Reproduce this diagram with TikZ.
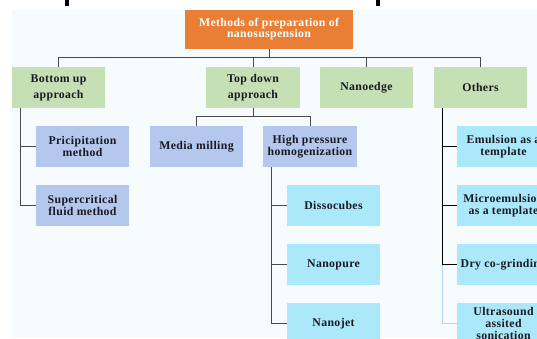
\documentclass[tikz,border=0pt]{standalone}
\usepackage{fontspec}
\setmainfont{Liberation Serif}[LetterSpace=3]
\definecolor{bgc}{HTML}{F6FCFD}
\definecolor{orangec}{HTML}{E97F35}
\definecolor{greenc}{HTML}{C5E0B4}
\definecolor{bluec}{HTML}{B4C7EC}
\definecolor{cyanc}{HTML}{AAE8FA}
\definecolor{linec}{HTML}{4A4A4A}
\definecolor{faintc}{HTML}{B8D4F4}
\definecolor{textc}{HTML}{1A1A22}
\tikzset{
  basebox/.style={inner sep=0pt, minimum height=41pt, minimum width=93pt, align=center,
    font=\fontsize{11.8}{12}\selectfont\bfseries, text=textc},
  topbox/.style={basebox, fill=orangec, minimum width=168pt, minimum height=39pt, text=white,
    font=\fontsize{11.8}{11}\selectfont\bfseries},
  lvtwo/.style={basebox, fill=greenc, font=\fontsize{11.8}{16}\selectfont\bfseries},
  lvblue/.style={basebox, fill=bluec},
  lvcyan/.style={basebox, fill=cyanc},
  conn/.style={draw=linec, line width=0.9pt},
  connk/.style={draw=black, line width=0.9pt},
  connf/.style={draw=faintc, line width=0.9pt}
}
\begin{document}
\begin{tikzpicture}[x=1pt,y=-1pt]
\useasboundingbox (0,0) rectangle (537,338);
\clip (0,0) rectangle (537,338);
\fill[white] (0,0) rectangle (537,338);
\fill[bgc] (12,10) rectangle (537,338);
% cut-off marks at the top
\fill[black] (65,0) rectangle (69,6);
\fill[black] (376,0) rectangle (380,6);

\node[topbox] (top) at (269,29.5) {Methods of preparation of\\nanosuspension};

\node[lvtwo] (bu) at (58.5,87.5) {Bottom up\\approach};
\node[lvtwo, minimum width=94pt] (td) at (253,87.5) {Top down\\approach};
\node[lvtwo] (ne) at (366.5,87.5) {Nanoedge};
\node[lvtwo] (ot) at (480.5,87.5) {Others};

\node[lvblue] (pr) at (82.5,146.5) {Pricipitation\\method};
\node[lvblue] (sc) at (82.5,205.5) {Supercritical\\fluid method};

\node[lvblue] (mm) at (196.5,146.5) {Media milling};
\node[lvblue, minimum width=94pt] (hp) at (310,146.5) {High pressure\\homogenization};

\node[lvcyan] (di) at (333.5,205.5) {Dissocubes};
\node[lvcyan] (np) at (333.5,264.5) {Nanopure};
\node[lvcyan] (nj) at (333.5,323.5) {Nanojet};

\node[lvcyan] (em) at (503.5,146.5) {Emulsion as a\\template};
\node[lvcyan] (mi) at (503.5,205.5) {Microemulsion\\as a template};
\node[lvcyan] (dr) at (503.5,264.5) {Dry co-grinding};
\node[lvcyan] (us) at (503.5,323.5) {Ultrasound\\assited\\sonication};

% top level connectors
\coordinate (j1) at (269,57);
\draw[conn] (top.south) -- (j1);
\draw[conn] (bu.north) -- (bu.north |- j1) -- (ot.north |- j1) -- (ot.north);
\draw[conn] (td.north) -- (td.north |- j1);
\draw[conn] (ne.north) -- (ne.north |- j1);

% bottom up
\draw[conn] ([xshift=9pt]bu.south west) |- (pr.west);
\draw[conn] ([xshift=9pt]bu.south west) |- (sc.west);

% top down
\coordinate (j2) at (253,116.5);
\draw[conn] (td.south) -- (j2);
\draw[conn] (mm.north) -- (mm.north |- j2) -- (hp.north |- j2) -- (hp.north);

% high pressure
\draw[conn] ([xshift=9pt]hp.south west) |- (di.west);
\draw[conn] ([xshift=9pt]hp.south west) |- (np.west);
\draw[conn] ([xshift=9pt]hp.south west) |- (nj.west);

% others
\coordinate (ot1) at ([xshift=9pt]ot.south west);
\draw[connk] (ot1) |- (em.west);
\draw[connk] (ot1) |- (mi.west);
\draw[connk] (ot1) |- (dr.west);
\coordinate (ot2) at (ot1 |- dr.west);
\draw[connf] (ot2) |- (us.west);
\end{tikzpicture}
\end{document}
